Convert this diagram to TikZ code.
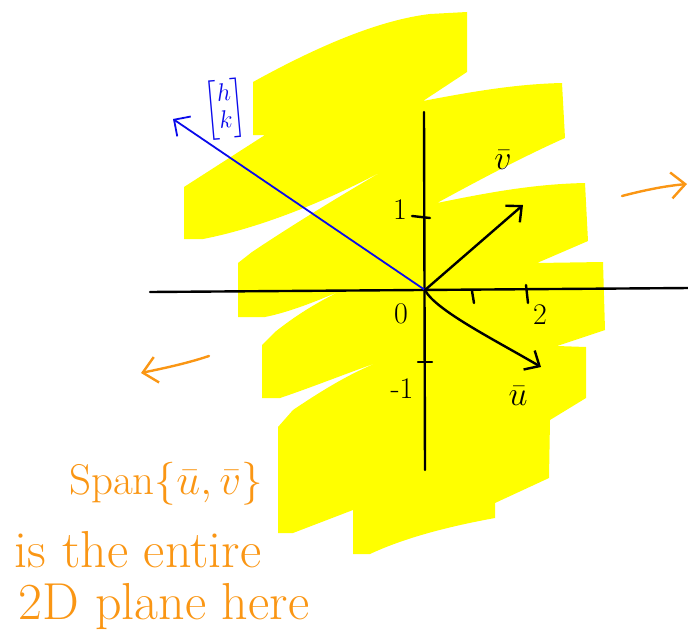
\RequirePackage{fix-cm}
\documentclass[tikz,border=0pt]{standalone}
\usepackage{amsmath}
\usepackage{tikz}
\usetikzlibrary{arrows.meta, positioning}
\definecolor{hiyellow}{RGB}{255,255,0}
\definecolor{penblue}{RGB}{10,10,235}
\definecolor{penorange}{RGB}{250,150,20}

\begin{document}
\begin{tikzpicture}[x=1pt, y=-1pt,
  axis/.style={line width=2.4pt, line cap=round},
  tickmark/.style={line width=2.4pt, line cap=round},
  vecarrow/.style={-{Straight Barb[length=12pt, width=22pt]}, line width=2.4pt, line cap=round},
  bluearrow/.style={-{Straight Barb[length=12pt, width=24pt]}, penblue, line width=1.8pt, line cap=round},
  handarrow/.style={-{Straight Barb[length=14pt, width=26pt]}, penorange, line width=2.4pt, line cap=round},
  lab/.style={inner sep=0pt, font=\fontsize{30}{30}\selectfont},
  veclab/.style={inner sep=0pt, font=\fontsize{34}{34}\selectfont},
  note/.style={text=penorange, inner sep=0pt, font=\fontsize{52}{56}\selectfont},
]
\useasboundingbox (0,0) rectangle (688,642);

\fill[hiyellow] (253,82) .. controls (320,45) and (380,20) .. (430,14) -- (467,12) -- (467,72)
  -- (423,101) .. controls (480,90) and (520,84) .. (562,83) -- (565,138)
  .. controls (520,158) and (470,185) .. (437,203) .. controls (500,190) and (540,184) .. (585,183)
  -- (588,241) -- (537,263) -- (603,262) -- (605,330) -- (557,346) -- (586,347) -- (586,398)
  -- (550,420) -- (549,478) -- (495,503) -- (495,518) .. controls (440,528) and (400,540) .. (370,554)
  -- (353,554) -- (353,510) -- (293,533) -- (278,533) -- (278,427) -- (293,410)
  .. controls (330,385) and (360,368) .. (390,358) .. controls (350,372) and (310,388) .. (280,398)
  -- (262,398) -- (262,345) -- (275,332) .. controls (300,312) and (325,298) .. (347,288)
  .. controls (320,300) and (290,312) .. (265,317) -- (238,317) -- (238,263) -- (252,252)
  .. controls (300,220) and (350,190) .. (388,168) .. controls (330,200) and (260,228) .. (203,239)
  -- (184,239) -- (184,187) -- (265,135) -- (253,135) -- cycle;

\coordinate (O)    at (425,290);
\coordinate (xl)   at (150,292);
\coordinate (xr)   at (690,288);
\coordinate (yt)   at (424,112);
\coordinate (yb)   at (425,470);
\coordinate (vtip) at (523,205);
\coordinate (utip) at (541,367);
\coordinate (hk)   at (173,119);

\draw[axis] (xl) -- (xr);
\draw[axis] (yt) -- (yb);
\draw[tickmark] (412,216) -- (430,218);
\draw[tickmark] (418,362) -- (432,362);
\draw[tickmark] (472,291) -- (474,303);
\draw[tickmark] (526,285) -- (528,303);

\node[lab] (zero) at (401,314) {0};
\node[lab] (one)  at (400,210) {1};
\node[lab] (mone) at (402,389) {-1};
\node[lab] (two)  at (540,315) {2};

\draw[bluearrow] (O) -- (hk);
\node[text=penblue, inner sep=0pt, rotate=5, font=\fontsize{25}{27}\selectfont] (hklab) at (225,109)
  {$\begin{bmatrix} h\\ k \end{bmatrix}$};

\draw[vecarrow] (O) -- (vtip);
\draw[vecarrow] (O) .. controls (435,310) and (495,340) .. (utip);
\node[veclab] (vlab) at (503,160) {$\bar{v}$};
\node[veclab] (ulab) at (518,396) {$\bar{u}$};

\coordinate (ra0) at (622,196);
\coordinate (ra1) at (687,184);
\coordinate (la0) at (209,356);
\coordinate (la1) at (141,373);
\draw[handarrow] (ra0) .. controls (645,190) and (665,186) .. (ra1);
\draw[handarrow] (la0) .. controls (185,364) and (160,369) .. (la1);

\node[note, font=\fontsize{43}{46}\selectfont] (span) at (166,484) {Span$\{\bar{u},\bar{v}\}$};
\node[note] (entire) at (138,550) {is the entire};
\node[note] (plane)  at (164,607) {2D plane here};
\end{tikzpicture}
\end{document}
